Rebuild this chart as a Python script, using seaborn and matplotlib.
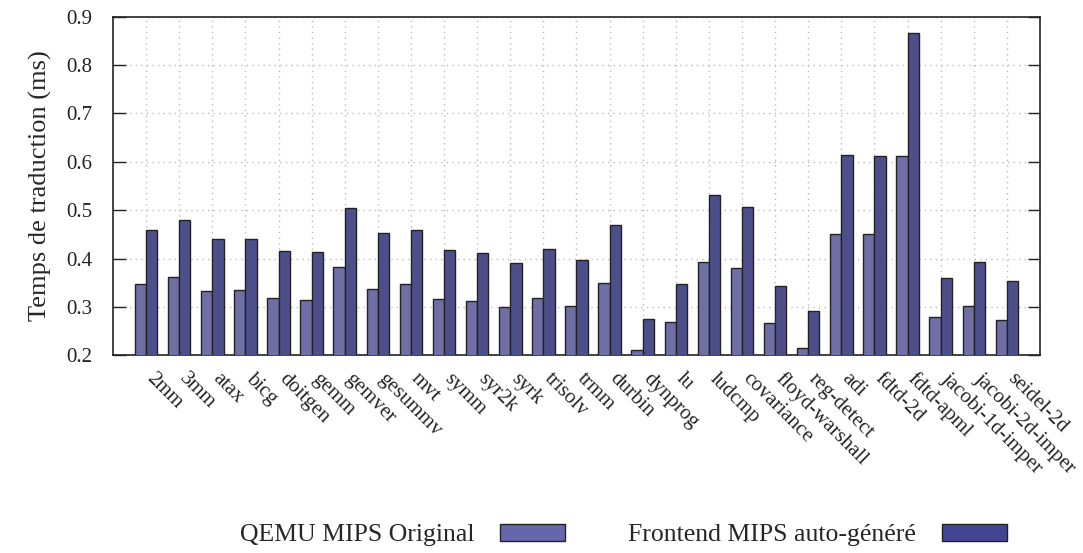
import matplotlib
matplotlib.use("Agg")
import matplotlib.pyplot as plt
from matplotlib.patches import Patch
import seaborn as sns
import pandas as pd

benchmarks = ["2mm", "3mm", "atax", "bicg", "doitgen", "gemm", "gemver", "gesummv",
              "mvt", "symm", "syr2k", "syrk", "trisolv", "trmm", "durbin", "dynprog",
              "lu", "ludcmp", "covariance", "floyd-warshall", "reg-detect", "adi",
              "fdtd-2d", "fdtd-apml", "jacobi-1d-imper", "jacobi-2d-imper", "seidel-2d"]
qemu_original = [0.347, 0.362, 0.332, 0.335, 0.318, 0.314, 0.382, 0.338,
                 0.347, 0.316, 0.312, 0.299, 0.318, 0.301, 0.350, 0.210,
                 0.268, 0.392, 0.381, 0.266, 0.216, 0.450,
                 0.451, 0.611, 0.279, 0.302, 0.272]
frontend_generated = [0.460, 0.480, 0.440, 0.440, 0.416, 0.414, 0.504, 0.452,
                      0.459, 0.418, 0.411, 0.391, 0.419, 0.396, 0.469, 0.276,
                      0.347, 0.531, 0.507, 0.344, 0.292, 0.614,
                      0.611, 0.866, 0.359, 0.392, 0.354]
series_names = ["QEMU MIPS Original", "Frontend MIPS auto-généré"]
colors = ["#6666ae", "#434594"]
y_ticks = [0.2, 0.3, 0.4, 0.5, 0.6, 0.7, 0.8, 0.9]

df = pd.DataFrame({
    "bench": benchmarks * 2,
    "temps": qemu_original + frontend_generated,
    "serie": [series_names[0]] * len(benchmarks) + [series_names[1]] * len(benchmarks),
})

sns.set_style("white")
plt.rcParams["font.family"] = ["Liberation Serif", "DejaVu Serif"]
plt.rcParams["font.size"] = 15

fig = plt.figure(figsize=(10.83, 5.53), dpi=100)
ax = fig.add_axes([0.1043, 0.3575, 0.8560, 0.6123])

sns.barplot(data=df, x="bench", y="temps", hue="serie", order=benchmarks,
            hue_order=series_names, palette=colors, width=0.68,
            edgecolor="#222222", linewidth=1.0, ax=ax, legend=False,
            errorbar=None, zorder=3)

ax.set_xlim(-1, len(benchmarks))
ax.set_ylim(0.2, 0.9)
ax.set_yticks(y_ticks)
ax.set_yticklabels([f"{t:.1f}" for t in y_ticks])

# major ticks carry the vertical grid at each benchmark; the slanted names
# sit on minor ticks nudged slightly to the right
centers = list(range(len(benchmarks)))
ax.set_xticks(centers)
ax.set_xticklabels([""] * len(benchmarks))
ax.set_xticks([c + 0.3 for c in centers], minor=True)
ax.set_xticklabels(benchmarks, minor=True, rotation=-45, ha="left", va="top",
                   rotation_mode="anchor", fontsize=15)
ax.set_xlabel("")
ax.set_ylabel("Temps de traduction (ms)", fontsize=19, labelpad=10)

ax.grid(True, which="major", color="#bbbbbb", linestyle=(0, (1, 3)),
        linewidth=1.0, zorder=0)
ax.grid(False, which="minor")
ax.set_axisbelow(True)

for side in ax.spines.values():
    side.set_color("#222222")
    side.set_linewidth(1.2)
    side.set_visible(True)

ax.tick_params(axis="y", which="both", direction="in", length=9, width=1.0,
               left=True, right=True, pad=15, labelsize=15, colors="#222222")
ax.tick_params(axis="x", which="both", bottom=False, top=False, pad=8)

handles = [Patch(facecolor=c, edgecolor="#222222", linewidth=1.0) for c in colors]
fig.legend(handles, series_names, loc="center", bbox_to_anchor=(0.5757, 0.032),
           ncol=2, frameon=False, markerfirst=False, handlelength=2.55,
           handleheight=0.6, columnspacing=2.45, handletextpad=1.0, fontsize=18.5)

fig.savefig("out.png", dpi=100)
